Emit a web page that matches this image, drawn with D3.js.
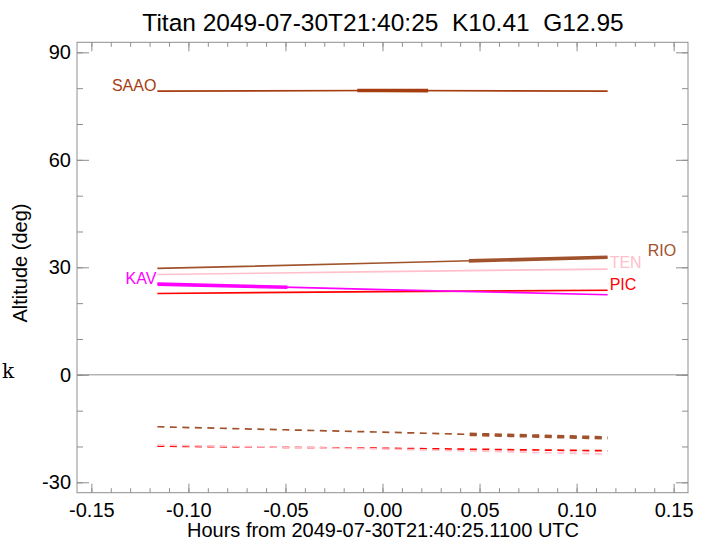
<!DOCTYPE html>
<html lang="en">
<head>
    <meta charset="utf-8">
    <script src="https://d3js.org/d3.v7.min.js"></script>
    <style>
        body { margin: 0; background: #fff; }
        svg text { font-family: "Liberation Sans", Arial, sans-serif; }
        .tick line { stroke: #8f8f8f; }
    </style>
</head>
<body>
    <div id="chart"></div>
    <script>
        /* Data */
        var title = "Titan 2049-07-30T21:40:25  K10.41  G12.95";
        var xTitle = "Hours from 2049-07-30T21:40:25.1100 UTC";
        var yTitle = "Altitude (deg)";

        var hours = [-0.116, 0, 0.116];
        var xTicks = [-0.15, -0.10, -0.05, 0.00, 0.05, 0.10, 0.15];
        var yTicks = [-30, 0, 30, 60, 90];

        var saaoAlt = [79.2, 79.35, 79.2];
        var rioAlt = [29.7, 31.2, 32.8];
        var tenAlt = [28.0, 28.8, 29.5];
        var kavAlt = [25.3, 23.8, 22.35];
        var picAlt = [22.7, 23.2, 23.6];

        // sun altitude (dashed)
        var rioSun = [-14.5, -16.0, -17.6];
        var tenSun = [-19.6, -20.7, -22.1];
        var picSun = [-19.9, -20.5, -21.2];

        // time spans drawn heavy
        var saaoThick = [-0.013, 0.0235];
        var rioThick = [0.0445, 0.116];
        var kavThick = [-0.116, -0.049];

        var width = 706;
        var height = 541;

        var x = d3.scaleLinear().domain([-0.1574, 0.1574]).range([77, 688]);
        var y = d3.scaleLinear().domain([-32.9, 92.8]).range([492.7, 42.3]);

        var svg = d3.select("#chart").append("svg")
          .attr("width", width)
          .attr("height", height);

        var hyphen = function(f) { return function(d) { return f(d).replace("\u2212", "-"); }; };

        /* clip for the heavy parts */
        var defs = svg.append("defs");
        function clipFor(id, span) {
            defs.append("clipPath").attr("id", id)
              .append("rect")
              .attr("x", x(span[0]))
              .attr("y", 0)
              .attr("width", x(span[1]) - x(span[0]))
              .attr("height", height);
            return "url(#" + id + ")";
        }

        var series = [
            {name: "RIO", alt: rioSun, color: "#a0522d", dash: true, thick: rioThick},
            {name: "PIC", alt: picSun, color: "#ff0000", dash: true},
            {name: "TEN", alt: tenSun, color: "#ffc0cb", dash: true},
            {name: "SAAO", alt: saaoAlt, color: "#a63d10", thick: saaoThick, side: "left"},
            {name: "RIO", alt: rioAlt, color: "#a0522d", thick: rioThick, side: "right", dx: 38, dy: -1},
            {name: "TEN", alt: tenAlt, color: "#ffc0cb", side: "right", dy: -1},
            {name: "PIC", alt: picAlt, color: "#ff0000", side: "right"},
            {name: "KAV", alt: kavAlt, color: "#ff00ff", thick: kavThick, side: "left"}
        ];

        var line = d3.line()
          .x(function(d) { return x(d[0]); })
          .y(function(d) { return y(d[1]); });

        /* horizon */
        svg.append("line")
          .attr("x1", x.range()[0]).attr("x2", x.range()[1])
          .attr("y1", y(0)).attr("y2", y(0))
          .attr("stroke", "#8f8f8f").attr("stroke-width", 1);

        series.forEach(function(s, i) {
            var pts = hours.map(function(h, j) { return [h, s.alt[j]]; });
            svg.append("path")
              .attr("d", line(pts))
              .attr("fill", "none")
              .attr("stroke", s.color)
              .attr("stroke-width", 1.7)
              .attr("stroke-dasharray", s.dash ? "7,5.5" : null);
            if (s.thick) {
                svg.append("path")
                  .attr("d", line(pts))
                  .attr("fill", "none")
                  .attr("stroke", s.color)
                  .attr("stroke-width", 3.6)
                  .attr("stroke-dasharray", s.dash ? "7,5.5" : null)
                  .attr("clip-path", clipFor("thick" + i, s.thick));
            }
            if (s.side) {
                var left = s.side == "left";
                var p = left ? pts[0] : pts[pts.length - 1];
                svg.append("text")
                  .attr("x", x(p[0]) + (left ? -1 : 2 + (s.dx || 0)))
                  .attr("y", y(p[1]) + (s.dy || 0))
                  .attr("text-anchor", left ? "end" : "start")
                  .attr("fill", s.color)
                  .attr("font-size", "16px")
                  .text(s.name);
            }
        });

        /* axes, ticks pointing inward */
        var xMinor = d3.range(-15, 16).map(function(v) { return v / 100; });
        var yMinor = d3.range(-30, 91, 10);

        function noDomain(g) { g.select(".domain").remove(); }

        svg.append("g")
          .attr("transform", "translate(0," + y.range()[0] + ")")
          .call(d3.axisBottom(x).tickValues(xMinor).tickSize(-4.5).tickFormat(""))
          .call(noDomain);
        svg.append("g")
          .attr("transform", "translate(0," + y.range()[0] + ")")
          .call(d3.axisBottom(x).tickValues(xTicks).tickSize(-9).tickPadding(10)
                .tickFormat(hyphen(d3.format(".2f"))))
          .call(noDomain)
          .selectAll("text").attr("font-size", "20px").attr("fill", "#000");
        svg.append("g")
          .attr("transform", "translate(0," + y.range()[1] + ")")
          .call(d3.axisTop(x).tickValues(xMinor).tickSize(-4.5).tickFormat(""))
          .call(noDomain);
        svg.append("g")
          .attr("transform", "translate(0," + y.range()[1] + ")")
          .call(d3.axisTop(x).tickValues(xTicks).tickSize(-9).tickFormat(""))
          .call(noDomain);

        svg.append("g")
          .attr("transform", "translate(" + x.range()[0] + ",0)")
          .call(d3.axisLeft(y).tickValues(yMinor).tickSize(-6).tickFormat(""))
          .call(noDomain);
        svg.append("g")
          .attr("transform", "translate(" + x.range()[0] + ",0)")
          .call(d3.axisLeft(y).tickValues(yTicks).tickSize(-12).tickPadding(6)
                .tickFormat(hyphen(d3.format("d"))))
          .call(noDomain)
          .selectAll("text").attr("font-size", "20px").attr("fill", "#000");
        svg.append("g")
          .attr("transform", "translate(" + x.range()[1] + ",0)")
          .call(d3.axisRight(y).tickValues(yMinor).tickSize(-6).tickFormat(""))
          .call(noDomain);
        svg.append("g")
          .attr("transform", "translate(" + x.range()[1] + ",0)")
          .call(d3.axisRight(y).tickValues(yTicks).tickSize(-12).tickFormat(""))
          .call(noDomain);

        /* frame */
        svg.append("rect")
          .attr("x", x.range()[0]).attr("y", y.range()[1])
          .attr("width", x.range()[1] - x.range()[0])
          .attr("height", y.range()[0] - y.range()[1])
          .attr("fill", "none")
          .attr("stroke", "#8f8f8f").attr("stroke-width", 1);

        /* titles */
        svg.append("text")
          .attr("x", 383).attr("y", 31)
          .attr("text-anchor", "middle")
          .attr("font-size", "24.5px")
          .style("white-space", "pre")
          .text(title);

        svg.append("text")
          .attr("x", 383).attr("y", 537)
          .attr("text-anchor", "middle")
          .attr("font-size", "20px")
          .text(xTitle);

        svg.append("text")
          .attr("transform", "translate(27,263) rotate(-90)")
          .attr("text-anchor", "middle")
          .attr("font-size", "20px")
          .text(yTitle);

        svg.append("text")
          .attr("x", 2).attr("y", 378)
          .attr("font-size", "20px")
          .style("font-family", "'DejaVu Serif', serif")
          .text("k");
    </script>
</body>
</html>
